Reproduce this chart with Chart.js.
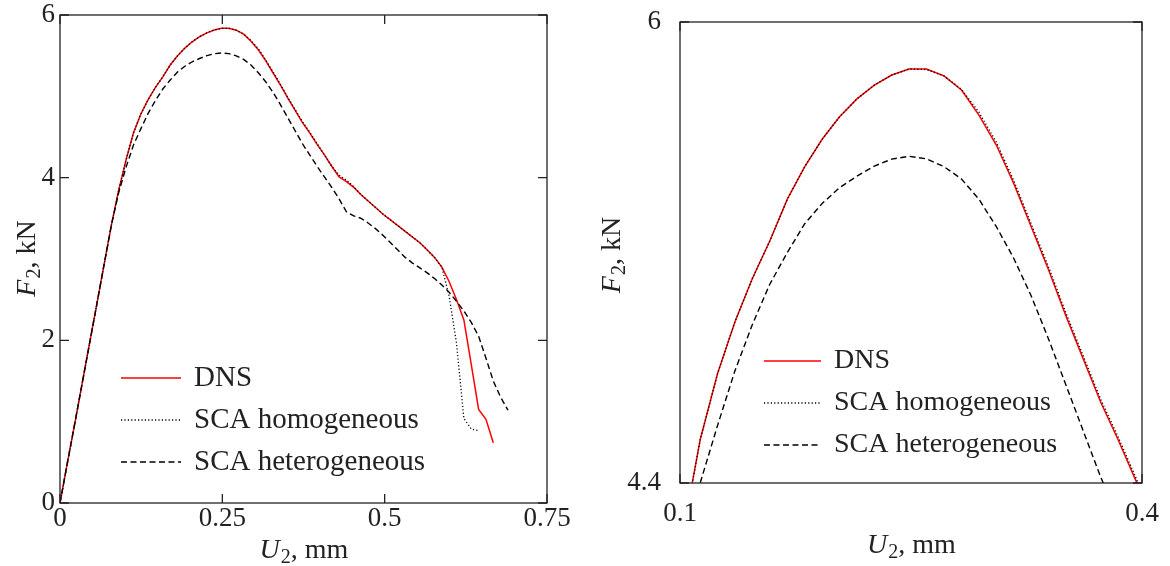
<!DOCTYPE html>
<html><head><meta charset="utf-8">
<script src="https://cdn.jsdelivr.net/npm/chart.js@4.4.1/dist/chart.umd.min.js"></script>
<style>
html,body{margin:0;padding:0;background:#fff;}
#wrap{position:relative;width:1170px;height:566px;overflow:hidden;}
#cl{position:absolute;left:0;top:0;}
#cr{position:absolute;left:590px;top:0;}
</style></head><body>
<div id="wrap"><canvas id="cl" width="590" height="566"></canvas><canvas id="cr" width="580" height="566"></canvas></div>
<script>
// ---- data (U2 in mm, F2 in kN) ----
const displacement = [0, 0.0113, 0.0226, 0.0339, 0.0452, 0.0566, 0.0679, 0.0792, 0.0905, 0.1018,
  0.1131, 0.1244, 0.1357, 0.147, 0.1583, 0.1697, 0.181, 0.1923, 0.2036, 0.2149,
  0.2262, 0.2375, 0.2488, 0.2601, 0.2714, 0.2828, 0.2941, 0.3054, 0.3167, 0.328,
  0.3393, 0.3506, 0.3619, 0.3732, 0.3845, 0.3959, 0.4072, 0.4185, 0.4298, 0.4411,
  0.4524, 0.4637, 0.475, 0.4863, 0.4976, 0.509, 0.5203, 0.5316, 0.5429, 0.5542,
  0.5655, 0.5768, 0.5881, 0.5994, 0.6107, 0.622, 0.6334, 0.6447, 0.656, 0.6673,
  0.6786, 0.6899];
const dns = [0, 0.49, 0.97, 1.46, 1.95, 2.44, 2.93, 3.42, 3.85, 4.22,
  4.55, 4.78, 4.96, 5.11, 5.24, 5.385, 5.498, 5.593, 5.671, 5.733,
  5.781, 5.816, 5.837, 5.837, 5.813, 5.764, 5.677, 5.573, 5.44, 5.29,
  5.14, 4.98, 4.83, 4.68, 4.55, 4.41, 4.28, 4.14, 4.01, 3.95,
  3.88, 3.79, 3.71, 3.63, 3.55, 3.48, 3.41, 3.34, 3.27, 3.20,
  3.11, 3.02, 2.90, 2.72, 2.50, 2.25, 1.70, 1.15, 1.03, 0.74,
  null, null];
const scaHomogeneous = [0, 0.49, 0.97, 1.46, 1.95, 2.44, 2.93, 3.42, 3.85, 4.22,
  4.55, 4.78, 4.96, 5.11, 5.24, 5.385, 5.498, 5.593, 5.671, 5.733,
  5.781, 5.816, 5.837, 5.835, 5.813, 5.766, 5.687, 5.583, 5.45, 5.30,
  5.15, 4.99, 4.84, 4.69, 4.56, 4.42, 4.28, 4.14, 4.03, 3.97,
  3.89, 3.79, 3.71, 3.63, 3.55, 3.48, 3.41, 3.34, 3.27, 3.20,
  3.11, 3.02, 2.90, 2.54, 1.96, 1.04, 0.91, 0.89, null, null,
  null, null];
const scaHeterogeneous = [0, 0.49, 0.97, 1.46, 1.95, 2.44, 2.93, 3.42, 3.82, 4.13,
  4.40, 4.60, 4.79, 4.95, 5.09, 5.20, 5.30, 5.37, 5.425, 5.465,
  5.50, 5.524, 5.534, 5.525, 5.498, 5.455, 5.385, 5.29, 5.18, 5.05,
  4.90, 4.74, 4.58, 4.42, 4.28, 4.14, 4.01, 3.88, 3.74, 3.58,
  3.53, 3.50, 3.44, 3.37, 3.29, 3.20, 3.11, 3.02, 2.95, 2.89,
  2.83, 2.76, 2.68, 2.59, 2.48, 2.36, 2.22, 2.05, 1.78, 1.50,
  1.30, 1.14];
const seriesLabels = ['DNS', 'SCA homogeneous', 'SCA heterogeneous'];
const leftXTicks = [0, 0.25, 0.5, 0.75];
const leftYTicks = [0, 2, 4, 6];
const rightXTicks = [0.1, 0.4];
const rightYTicks = [4.4, 6];

const SERIF = '"Liberation Serif", "Times New Roman", serif';
function pts(ys) {
  const out = [];
  ys.forEach((y, i) => { if (y !== null) out.push({x: displacement[i], y: y}); });
  return out;
}
function makeDatasets() {
  return [
    {label: seriesLabels[0], data: pts(dns), borderColor: '#ff0000', borderWidth: 1.5, borderDash: [], order: 3},
    {label: seriesLabels[1], data: pts(scaHomogeneous), borderColor: '#000000', borderWidth: 1.3, borderDash: [1.2, 2.2], order: 2},
    {label: seriesLabels[2], data: pts(scaHeterogeneous), borderColor: '#000000', borderWidth: 1.4, borderDash: [6, 3.5], order: 1}
  ];
}
function drawMathLabel(ctx, x, y, rotate, main, sub, rest, size) {
  ctx.save();
  ctx.translate(x, y);
  if (rotate) ctx.rotate(-Math.PI / 2);
  ctx.textBaseline = 'alphabetic';
  ctx.textAlign = 'left';
  ctx.fillStyle = '#222';
  const fMain = 'italic ' + size + 'px ' + SERIF;
  const fSub = Math.round(size * 0.7) + 'px ' + SERIF;
  const fRest = size + 'px ' + SERIF;
  ctx.font = fMain; const w1 = ctx.measureText(main).width;
  ctx.font = fSub; const w2 = ctx.measureText(sub).width;
  ctx.font = fRest; const w3 = ctx.measureText(rest).width;
  let cx = -(w1 + w2 + w3) / 2;
  const base = size * 0.34;
  ctx.font = fMain; ctx.fillText(main, cx, base); cx += w1 + 1;
  ctx.font = fSub; ctx.fillText(sub, cx, base + size * 0.2); cx += w2;
  ctx.font = fRest; ctx.fillText(rest, cx, base);
  ctx.restore();
}
const decor = {
  id: 'decor',
  afterDatasetsDraw(chart, args, o) {
    const ctx = chart.ctx, a = chart.chartArea, sx = chart.scales.x, sy = chart.scales.y;
    ctx.save();
    ctx.setLineDash([]);
    ctx.strokeStyle = '#222';
    ctx.lineWidth = 1.3;
    ctx.strokeRect(a.left, a.top, a.right - a.left, a.bottom - a.top);
    const L = o.tickLength;
    ctx.beginPath();
    sx.ticks.forEach(t => {
      const p = sx.getPixelForValue(t.value);
      ctx.moveTo(p, a.bottom); ctx.lineTo(p, a.bottom - L);
      ctx.moveTo(p, a.top); ctx.lineTo(p, a.top + L);
    });
    sy.ticks.forEach(t => {
      const p = sy.getPixelForValue(t.value);
      ctx.moveTo(a.left, p); ctx.lineTo(a.left + L, p);
      ctx.moveTo(a.right, p); ctx.lineTo(a.right - L, p);
    });
    ctx.stroke();
    drawMathLabel(ctx, (a.left + a.right) / 2, a.bottom + o.xTitleOffset, false, 'U', '2', ', mm', o.titleSize);
    drawMathLabel(ctx, a.left - o.yTitleOffset, (a.top + a.bottom) / 2 + o.yTitleShift, true, 'F', '2', ', kN', o.titleSize);
    chart.data.datasets.forEach((ds, i) => {
      const y = a.top + o.legendTop + i * o.legendGap;
      const x0 = a.left + o.legendX;
      ctx.beginPath();
      ctx.setLineDash(ds.borderDash || []);
      ctx.strokeStyle = ds.borderColor;
      ctx.lineWidth = ds.borderWidth;
      ctx.moveTo(x0, y); ctx.lineTo(x0 + o.legendLine, y);
      ctx.stroke();
      ctx.setLineDash([]);
      ctx.font = o.legendSize + 'px ' + SERIF;
      ctx.fillStyle = '#222';
      ctx.textBaseline = 'middle';
      ctx.textAlign = 'left';
      ctx.fillText(ds.label, a.left + o.legendText, y);
    });
    ctx.restore();
  }
};
function makeChart(id, cfg) {
  return new Chart(document.getElementById(id), {
    type: 'line',
    data: {datasets: makeDatasets()},
    plugins: [decor],
    options: {
      responsive: false,
      animation: false,
      layout: {padding: {top: cfg.padTop, right: cfg.padRight, left: 0, bottom: 0}},
      elements: {point: {radius: 0, hoverRadius: 0}, line: {tension: 0, fill: false, borderCapStyle: 'butt'}},
      plugins: {
        legend: {display: false},
        tooltip: {enabled: false},
        decor: cfg.decor
      },
      scales: {
        x: {
          type: 'linear', min: cfg.xTicks[0], max: cfg.xTicks[cfg.xTicks.length - 1],
          afterBuildTicks: s => { s.ticks = cfg.xTicks.map(v => ({value: v})); },
          afterFit: s => { s.height = cfg.xHeight; s.paddingLeft = 0; s.paddingRight = 0; s.paddingTop = 0; s.paddingBottom = 0; },
          grid: {display: false, drawTicks: false},
          border: {display: false},
          ticks: {padding: cfg.xPad, color: '#222', maxRotation: 0, autoSkip: false,
            font: {family: SERIF, size: 27, lineHeight: 1},
            callback: v => String(v)}
        },
        y: {
          type: 'linear', min: cfg.yTicks[0], max: cfg.yTicks[cfg.yTicks.length - 1],
          afterBuildTicks: s => { s.ticks = cfg.yTicks.map(v => ({value: v})); },
          afterFit: s => { s.width = cfg.yWidth; s.paddingLeft = 0; s.paddingRight = 0; s.paddingTop = 0; s.paddingBottom = 0; },
          grid: {display: false, drawTicks: false},
          border: {display: false},
          ticks: {padding: cfg.yPad, color: '#222', autoSkip: false,
            font: {family: SERIF, size: 27, lineHeight: 1},
            callback: v => String(v)}
        }
      }
    }
  });
}
makeChart('cl', {
  xTicks: leftXTicks, yTicks: leftYTicks,
  padTop: 15, padRight: 43, xHeight: 63, yWidth: 60, xPad: 2.5, yPad: 5,
  decor: {tickLength: 9, titleSize: 28, xTitleOffset: 45, yTitleOffset: 35, yTitleShift: 0,
    legendTop: 363, legendGap: 42, legendX: 61, legendLine: 60, legendText: 134, legendSize: 29}
});
makeChart('cr', {
  xTicks: rightXTicks, yTicks: rightYTicks,
  padTop: 22, padRight: 28, xHeight: 83, yWidth: 90, xPad: 17, yPad: 19,
  decor: {tickLength: 9, titleSize: 28, xTitleOffset: 60, yTitleOffset: 70, yTitleShift: 3,
    legendTop: 339, legendGap: 42, legendX: 84, legendLine: 57, legendText: 154, legendSize: 28}
});
</script>
</body></html>
